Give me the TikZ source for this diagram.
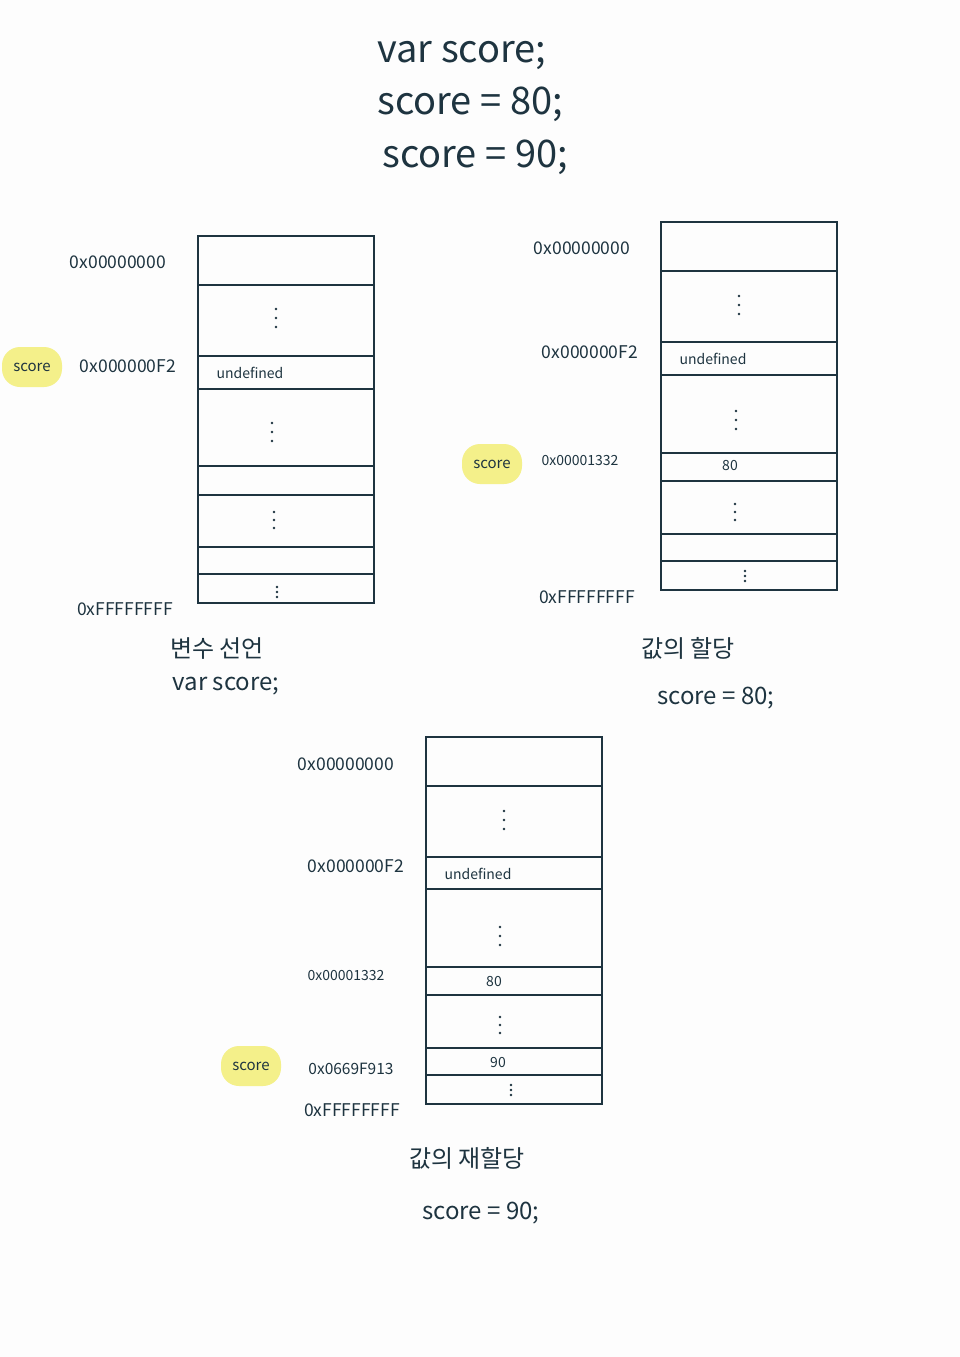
\documentclass[tikz,border=0pt]{standalone}
\usepackage{fontspec}
\setmainfont{Noto Sans CJK KR}
\definecolor{ink}{HTML}{1E3440}
\definecolor{hl}{HTML}{F4F08A}
\definecolor{bg}{HTML}{FDFDFD}
\tikzset{
  mem/.style={draw=ink, line width=1.6pt},
  addr/.style={text=ink, font=\fontsize{17.5}{20}\selectfont, inner sep=0pt},
  addrs/.style={text=ink, font=\fontsize{14}{16}\selectfont, inner sep=0pt},
  addrm/.style={text=ink, font=\fontsize{15.5}{18}\selectfont, inner sep=0pt},
  cell/.style={text=ink, font=\fontsize{14}{16}\selectfont, inner sep=0pt},
  dotspot/.style={inner sep=0pt, minimum size=20pt},
  head/.style={text=ink, font=\fontsize{38}{42}\selectfont, inner sep=0pt},
  captxt/.style={text=ink, font=\fontsize{24}{28}\selectfont, inner sep=0pt},
  tag/.style={fill=hl, text=ink, rounded corners=18pt, minimum width=60pt, minimum height=40pt, inner sep=2pt, font=\fontsize{15}{17}\selectfont},
}
% #1 name, #2 x, #3 y, #4 gap
\newcommand\mydots[4]{%
  \node[dotspot] (#1) at (#2,#3) {};
  \fill[ink] (#2,#3-#4) circle (1.4) (#2,#3) circle (1.4) (#2,#3+#4) circle (1.4);}
\begin{document}
\begin{tikzpicture}[x=1pt,y=-1pt]
\fill[bg] (0,0) rectangle (960,1357);
\useasboundingbox (0,0) rectangle (960,1357);
% header
\node[head] (h1) at (462,56) {var score;};
\node[head] (h2) at (470,104) {score = 80;};
\node[head] (h3) at (475,157) {score = 90;};
% ---------- box 1
\draw[mem] (198,236) rectangle (374,603);
\foreach \yy in {285,356,389,466,495,547,574} \draw[mem] (198,\yy) -- (374,\yy);
\node[cell] (u1) at (250,373) {undefined};
\mydots{d1a}{276}{318}{9}
\mydots{d1b}{272}{432}{9}
\mydots{d1c}{274}{520}{8}
\mydots{d1d}{277}{592}{5}
\node[addr] (a1a) at (118,262) {0x00000000};
\node[addr] (a1b) at (128,366) {0x000000F2};
\node[addr] (a1c) at (125,609) {0xFFFFFFFF};
\node[tag] (s1) at (32,367) {score};
\node[captxt] (c1a) at (217,649) {변수 선언};
\node[captxt] (c1b) at (226,686) {var score;};
% ---------- box 2
\draw[mem] (661,222) rectangle (837,590);
\foreach \yy in {271,342,375,453,481,534,561} \draw[mem] (661,\yy) -- (837,\yy);
\node[cell] (u2) at (713,359) {undefined};
\node[cell] (v2) at (730,466) {80};
\mydots{d2a}{739}{305}{9}
\mydots{d2b}{736}{420}{9}
\mydots{d2c}{735}{512}{8}
\mydots{d2d}{745}{576}{5}
\node[addr] (a2a) at (582,248) {0x00000000};
\node[addr] (a2b) at (590,352) {0x000000F2};
\node[addrs] (a2c) at (580,461) {0x00001332};
\node[addr] (a2d) at (587,597) {0xFFFFFFFF};
\node[tag] (s2) at (492,464) {score};
\node[captxt] (c2a) at (688,648) {값의 할당};
\node[captxt] (c2b) at (716,698) {score = 80;};
% ---------- box 3
\draw[mem] (426,737) rectangle (602,1104);
\foreach \yy in {786,857,889,967,995,1048,1075} \draw[mem] (426,\yy) -- (602,\yy);
\node[cell] (u3) at (478,874) {undefined};
\node[cell] (v3a) at (494,981) {80};
\node[cell] (v3b) at (498,1062) {90};
\mydots{d3a}{504}{820}{9}
\mydots{d3b}{500}{936}{9}
\mydots{d3c}{500}{1025}{8}
\mydots{d3d}{511}{1090}{5}
\node[addr] (a3a) at (346,764) {0x00000000};
\node[addr] (a3b) at (356,866) {0x000000F2};
\node[addrs] (a3c) at (346,975) {0x00001332};
\node[addrm] (a3d) at (351,1069) {0x0669F913};
\node[addr] (a3e) at (352,1110) {0xFFFFFFFF};
\node[tag] (s3) at (251,1066) {score};
\node[captxt] (c3a) at (467,1158) {값의 재할당};
\node[captxt] (c3b) at (481,1213) {score = 90;};
\end{tikzpicture}
\end{document}
